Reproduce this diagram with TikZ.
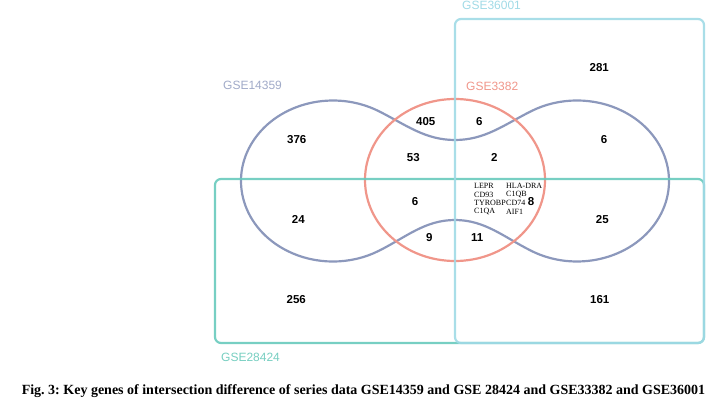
\documentclass[tikz,border=0pt]{standalone}
\usepackage{fontspec}
\setmainfont{Liberation Sans}
\newfontfamily\capfont{Liberation Serif}
\frenchspacing
\begin{document}
\begin{tikzpicture}[x=1pt,y=1pt,
  setblue/.style={draw={rgb,255:red,140;green,152;blue,188}, line width=2.2pt},
  setred/.style={draw={rgb,255:red,240;green,150;blue,138}, line width=2.2pt},
  setteal/.style={draw={rgb,255:red,104;green,202;blue,188}, line width=2.2pt, rounded corners=6pt, opacity=0.9},
  setcyan/.style={draw={rgb,255:red,160;green,218;blue,230}, line width=2.2pt, rounded corners=6pt, opacity=0.9},
  num/.style={font=\fontsize{11.5}{12}\selectfont\bfseries, inner sep=0pt},
  gene/.style={font=\capfont\fontsize{8}{8}\selectfont, inner sep=0pt, anchor=west},
  setlabel/.style={font=\fontsize{12}{13}\selectfont, inner sep=0pt, anchor=west}]
\useasboundingbox (0,0) rectangle (724,-404);
% GSE14359 dumbbell shape
\draw[setblue] (455,-140) .. controls (425,-140) and (406,-124.8) .. (379,-111.3)
  arc[start angle=60, end angle=300, x radius=92, y radius=80.5]
  .. controls (406,-237.2) and (425,-220) .. (455,-220)
  .. controls (485,-220) and (504,-237.2) .. (531,-250.7)
  arc[start angle=240, end angle=480, x radius=92, y radius=80.5]
  .. controls (504,-124.8) and (485,-140) .. (455,-140) -- cycle;
% GSE3382
\draw[setred] (455,-180) ellipse[x radius=90, y radius=81];
% GSE28424
\draw[setteal] (215,-179) rectangle (704,-343);
% GSE36001
\draw[setcyan] (455,-19) rectangle (704,-343);
% set labels
\node[setlabel, text={rgb,255:red,160;green,170;blue,200}] (l1) at (223,-85.5) {GSE14359};
\node[setlabel, text={rgb,255:red,240;green,150;blue,138}] (l2) at (466,-86) {GSE3382};
\node[setlabel, text={rgb,255:red,160;green,218;blue,230}] (l3) at (462,-5) {GSE36001};
\node[setlabel, text={rgb,255:red,118;green,206;blue,192}] (l4) at (221,-357) {GSE28424};
% numbers
\node[num] (n281) at (599.3,-67.7) {281};
\node[num] (n376) at (296.7,-140) {376};
\node[num] (n405) at (425.7,-121.7) {405};
\node[num] (n6a) at (479.3,-121.7) {6};
\node[num] (n6b) at (604,-140) {6};
\node[num] (n53) at (413.3,-157.3) {53};
\node[num] (n2) at (494.3,-157.3) {2};
\node[num] (n6c) at (415,-201.7) {6};
\node[num] (n24) at (298.3,-219.3) {24};
\node[num] (n25) at (602.3,-219.3) {25};
\node[num] (n9) at (429.3,-237.3) {9};
\node[num] (n11) at (477.3,-237.3) {11};
\node[num] (n8) at (531,-201.7) {8};
\node[num] (n256) at (296.3,-300) {256};
\node[num] (n161) at (599.7,-300) {161};
% genes
\node[gene] (g1) at (474,-185.7) {LEPR};
\node[gene] (g2) at (506,-185.7) {HLA-DRA};
\node[gene] (g3) at (474,-194.4) {CD93};
\node[gene] (g4) at (506,-194.4) {C1QB};
\node[gene] (g5) at (474,-203.1) {TYROBP};
\node[gene] (g6) at (506,-203.1) {CD74};
\node[gene] (g7) at (474,-211.8) {C1QA};
\node[gene] (g8) at (506,-211.8) {AIF1};
% caption
\node[inner sep=0pt, font=\capfont\bfseries\fontsize{14}{15}\selectfont] (cap) at (363.5,-391) {Fig. 3: Key genes of intersection difference of series data GSE14359 and GSE 28424 and GSE33382 and GSE36001};
\end{tikzpicture}
\end{document}
